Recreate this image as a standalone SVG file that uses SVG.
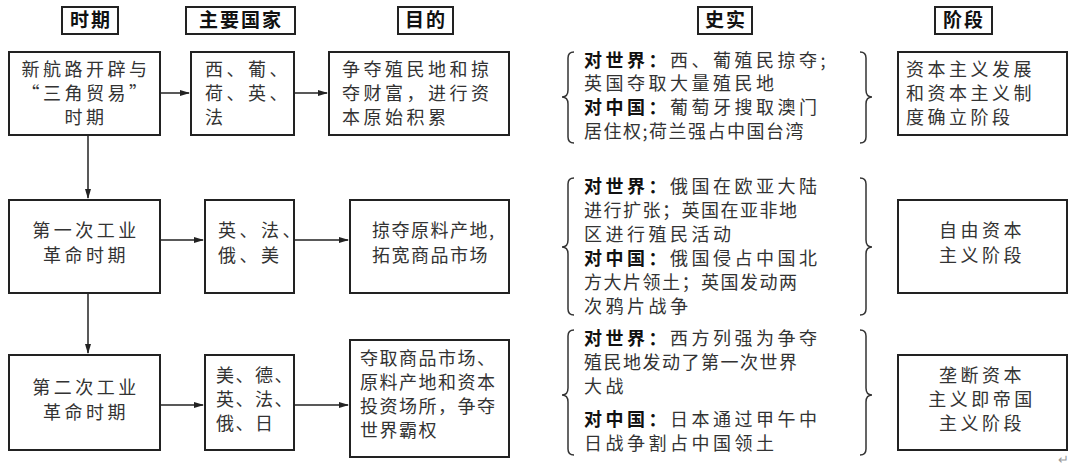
<svg xmlns="http://www.w3.org/2000/svg" width="1080" height="472" viewBox="0 0 1080 472">
<defs>
<marker id="ar" markerWidth="10" markerHeight="8" refX="9" refY="4" orient="auto" markerUnits="userSpaceOnUse"><path d="M0,1 L10,4 L0,7 Z" fill="#222"/></marker>
<style>
.b{fill:#fff;stroke:#222;stroke-width:2}
text{font-family:"Noto Sans CJK SC","Noto Sans",sans-serif;font-size:18px;fill:#333;letter-spacing:3.5px}
.h{font-weight:bold;fill:#111;font-size:19px;letter-spacing:2px}
.c{text-anchor:middle}
.k{font-weight:bold;fill:#111}
.n{letter-spacing:1.5px}
.l{stroke:#222;stroke-width:1.5;fill:none}
.br{stroke:#333;stroke-width:1.5;fill:none}
</style>
</defs>
<g id="headers">
<rect class="b" x="62" y="7" width="56" height="27"/><text class="h c" x="91" y="27">时期</text>
<rect class="b" x="186" y="7" width="109" height="27"/><text class="h c" x="241" y="27">主要国家</text>
<rect class="b" x="398" y="7" width="55" height="27"/><text class="h c" x="426" y="27">目的</text>
<rect class="b" x="698" y="7" width="54" height="27"/><text class="h c" x="726" y="27">史实</text>
<rect class="b" x="935" y="7" width="57" height="27"/><text class="h c" x="964" y="27">阶段</text>
</g>
<g id="connectors">
<path class="l" d="M160,93 H189" marker-end="url(#ar)"/>
<path class="l" d="M294,93 H327" marker-end="url(#ar)"/>
<path class="l" d="M160,240 H203" marker-end="url(#ar)"/>
<path class="l" d="M294,240 H348" marker-end="url(#ar)"/>
<path class="l" d="M160,405 H203" marker-end="url(#ar)"/>
<path class="l" d="M294,405 H348" marker-end="url(#ar)"/>
<path class="l" d="M88,135 V198" marker-end="url(#ar)"/>
<path class="l" d="M88,293 V353" marker-end="url(#ar)"/>
</g>
<g id="r1c1"><rect class="b" x="9" y="52" width="151" height="83"/>
<text class="c" x="86" y="76">新航路开辟与</text><text class="c" x="86" y="100">“三角贸易”</text><text class="c" x="86" y="124">时期</text></g>
<g id="r1c2"><rect class="b" x="191" y="52" width="103" height="83"/>
<text x="205" y="76">西、葡、</text><text x="205" y="100">荷、英、</text><text x="205" y="124">法</text></g>
<g id="r1c3"><rect class="b" x="329" y="52" width="180" height="83"/>
<text x="342" y="76">争夺殖民地和掠</text><text x="342" y="100">夺财富，进行资</text><text x="342" y="124">本原始积累</text></g>
<g id="r1c4">
<path class="br" d="M574,52 Q568,52 568,58 V90 Q568,97 562,97 Q568,97 568,104 V137 Q568,143 574,143"/>
<path class="br" d="M860,52 Q866,52 866,58 V90 Q866,97 872,97 Q866,97 866,104 V137 Q866,143 860,143"/>
<text x="584" y="67"><tspan class="k">对世界：</tspan>西、葡殖民掠夺;</text>
<text x="584" y="90">英国夺取大量殖民地</text>
<text x="584" y="114"><tspan class="k">对中国：</tspan>葡萄牙搜取澳门</text>
<text x="584" y="138" class="n">居住权;荷兰强占中国台湾</text></g>
<g id="r1c5"><rect class="b" x="898" y="52" width="169" height="83"/>
<text x="906" y="76">资本主义发展</text><text x="906" y="100">和资本主义制</text><text x="906" y="124">度确立阶段</text></g>

<g id="r2c1"><rect class="b" x="9" y="200" width="151" height="93"/>
<text class="c" x="86" y="237">第一次工业</text><text class="c" x="86" y="262">革命时期</text></g>
<g id="r2c2"><rect class="b" x="205" y="200" width="89" height="93"/>
<text x="218" y="237">英、法、</text><text x="218" y="262">俄、美</text></g>
<g id="r2c3"><rect class="b" x="350" y="200" width="159" height="93"/>
<text x="372" y="237" class="n">掠夺原料产地,</text><text x="372" y="262" class="n">拓宽商品市场</text></g>
<g id="r2c4">
<path class="br" d="M574,178 Q568,178 568,184 V240 Q568,247 562,247 Q568,247 568,254 V309 Q568,315 574,315"/>
<path class="br" d="M860,178 Q866,178 866,184 V240 Q866,247 872,247 Q866,247 866,254 V309 Q866,315 860,315"/>
<text x="584" y="193"><tspan class="k">对世界：</tspan>俄国在欧亚大陆</text>
<text x="584" y="217" class="n">进行扩张；英国在亚非地</text>
<text x="584" y="241">区进行殖民活动</text>
<text x="584" y="265"><tspan class="k">对中国：</tspan>俄国侵占中国北</text>
<text x="584" y="289" class="n">方大片领土；英国发动两</text>
<text x="584" y="313">次鸦片战争</text></g>
<g id="r2c5"><rect class="b" x="898" y="200" width="169" height="93"/>
<text class="c" x="982" y="237">自由资本</text><text class="c" x="982" y="262">主义阶段</text></g>

<g id="r3c1"><rect class="b" x="9" y="355" width="151" height="95"/>
<text class="c" x="86" y="394">第二次工业</text><text class="c" x="86" y="419">革命时期</text></g>
<g id="r3c2"><rect class="b" x="205" y="355" width="89" height="95"/>
<text x="216" y="382" class="n">美、德、</text><text x="216" y="406" class="n">英、法、</text><text x="216" y="430" class="n">俄、日</text></g>
<g id="r3c3"><rect class="b" x="350" y="340" width="159" height="117"/>
<text x="360" y="365" class="n">夺取商品市场、</text><text x="360" y="389" class="n">原料产地和资本</text><text x="360" y="413" class="n">投资场所，争夺</text><text x="360" y="437" class="n">世界霸权</text></g>
<g id="r3c4">
<path class="br" d="M574,330 Q568,330 568,336 V388 Q568,395 562,395 Q568,395 568,402 V449 Q568,455 574,455"/>
<path class="br" d="M860,330 Q866,330 866,336 V388 Q866,395 872,395 Q866,395 866,402 V449 Q866,455 860,455"/>
<text x="584" y="345"><tspan class="k">对世界：</tspan>西方列强为争夺</text>
<text x="584" y="369" class="n">殖民地发动了第一次世界</text>
<text x="584" y="393">大战</text>
<text x="584" y="426"><tspan class="k">对中国：</tspan>日本通过甲午中</text>
<text x="584" y="450">日战争割占中国领土</text></g>
<g id="r3c5"><rect class="b" x="898" y="355" width="169" height="95"/>
<text class="c" x="982" y="382">垄断资本</text><text class="c" x="982" y="406">主义即帝国</text><text class="c" x="982" y="430">主义阶段</text></g>
<text x="1058" y="464" style="font-size:13px;fill:#999;letter-spacing:0">↵</text>
</svg>
